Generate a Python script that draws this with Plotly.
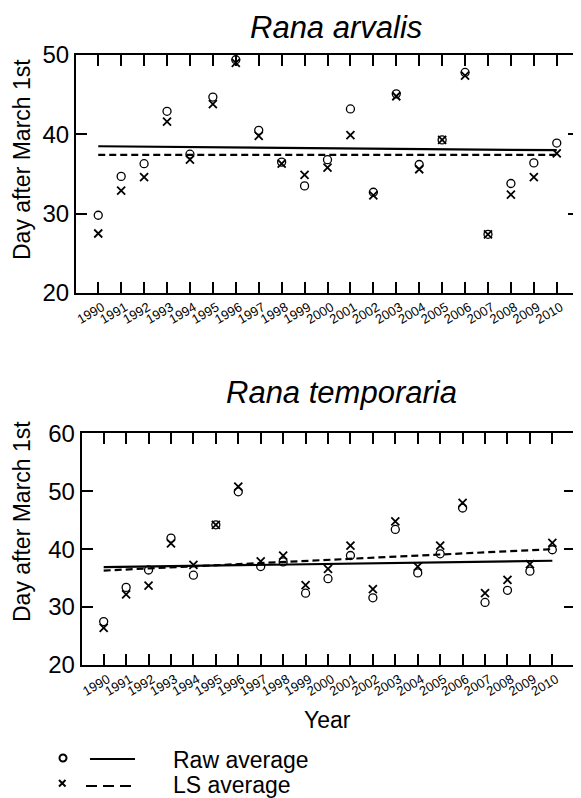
import plotly.graph_objects as go

# ---------------- data ----------------
years = list(range(1990, 2011))
year_labels = [str(y) for y in years]

arvalis_raw = [29.8, 34.7, 36.3, 42.9, 37.5, 44.7, 49.4, 40.5, 36.5, 33.5, 36.8,
               43.2, 32.7, 45.1, 36.2, 39.3, 47.8, 27.4, 33.8, 36.4, 38.9]
arvalis_ls = [27.5, 32.9, 34.6, 41.6, 36.8, 43.8, 49.0, 39.8, 36.3, 34.9, 35.8,
              39.9, 32.3, 44.8, 35.6, 39.3, 47.4, 27.4, 32.4, 34.6, 37.6]
temporaria_raw = [27.5, 33.4, 36.4, 41.9, 35.5, 44.2, 49.9, 37.0, 37.8, 32.4, 34.9,
                  38.9, 31.6, 43.4, 35.9, 39.2, 47.1, 30.8, 32.9, 36.2, 39.9]
temporaria_ls = [26.4, 32.2, 33.7, 41.0, 37.3, 44.2, 50.8, 37.9, 38.9, 33.8, 36.6,
                 40.6, 33.1, 44.8, 37.0, 40.6, 48.0, 32.4, 34.7, 37.4, 41.1]

trend_years = [1990, 2010]
arvalis_raw_trend = [38.5, 38.0]
arvalis_ls_trend = [37.4, 37.4]
temporaria_raw_trend = [36.9, 38.0]
temporaria_ls_trend = [36.3, 40.0]

top_yticks = [20, 30, 40, 50]
bottom_yticks = [20, 30, 40, 50, 60]

# ---------------- figure ----------------
W, H = 581, 798
OFF = 8  # the page body adds an 8px margin; positions below are in window pixels
FONT = "Liberation Sans, Arial, sans-serif"

def px(x):
    return (x - OFF) / W

def py(y):
    return 1 - (y - OFF) / H

fig = go.Figure()

circle_marker = dict(symbol="circle-open", size=8, color="black", line=dict(width=1.3, color="black"))
x_marker = dict(symbol="x-thin-open", size=8, color="black", line=dict(width=1.8, color="black"))

for xa, ya, raw, ls, rt, lt in [
    ("x", "y", arvalis_raw, arvalis_ls, arvalis_raw_trend, arvalis_ls_trend),
    ("x2", "y2", temporaria_raw, temporaria_ls, temporaria_raw_trend, temporaria_ls_trend),
]:
    fig.add_trace(go.Scatter(x=trend_years, y=rt, mode="lines", xaxis=xa, yaxis=ya,
                             line=dict(color="black", width=2.2), showlegend=False))
    fig.add_trace(go.Scatter(x=trend_years, y=lt, mode="lines", xaxis=xa, yaxis=ya,
                             line=dict(color="black", width=2.2, dash="7px,4px"), showlegend=False))
    fig.add_trace(go.Scatter(x=years, y=raw, mode="markers", xaxis=xa, yaxis=ya,
                             marker=circle_marker, showlegend=False, cliponaxis=False))
    fig.add_trace(go.Scatter(x=years, y=ls, mode="markers", xaxis=xa, yaxis=ya,
                             marker=x_marker, showlegend=False, cliponaxis=False))

common_x = dict(
    tickmode="array", tickvals=years, ticktext=year_labels, tickangle=-30,
    ticks="inside", ticklen=11, tickwidth=2, tickcolor="black",
    showline=True, linewidth=2, linecolor="black", mirror="ticks",
    showgrid=False, zeroline=False, automargin=False, ticklabelshift=4,
    tickfont=dict(family=FONT, size=13, color="black"),
)
common_y = dict(
    ticks="inside", ticklen=11, tickwidth=2, tickcolor="black",
    showline=True, linewidth=2, linecolor="black", mirror="ticks",
    showgrid=False, zeroline=False, automargin=False,
    tickfont=dict(family=FONT, size=24, color="black"),
)

fig.update_layout(
    width=W, height=H,
    margin=dict(l=0, r=0, t=0, b=0, autoexpand=False),
    paper_bgcolor="white", plot_bgcolor="white",
    showlegend=False,
    xaxis=dict(common_x, domain=[px(76), px(579)], range=[1989.03, 2010.97], anchor="y"),
    yaxis=dict(common_y, domain=[py(293), py(55)], range=[20, 50], tickvals=top_yticks, anchor="x"),
    xaxis2=dict(common_x, domain=[px(81.7), px(575)], range=[1989.02, 2011.01], anchor="y2"),
    yaxis2=dict(common_y, domain=[py(665), py(433.3)], range=[20, 60], tickvals=bottom_yticks, anchor="x2"),
)

# titles and axis labels
ann = []
ann.append(dict(text="<i>Rana arvalis</i>", x=px(336), y=py(27), xref="paper", yref="paper",
                showarrow=False, font=dict(family=FONT, size=31, color="black"),
                xanchor="center", yanchor="middle"))
ann.append(dict(text="<i>Rana temporaria</i>", x=px(341), y=py(393), xref="paper", yref="paper",
                showarrow=False, font=dict(family=FONT, size=31, color="black"),
                xanchor="center", yanchor="middle"))
ann.append(dict(text="Day after March 1st", x=px(22), y=py(160), xref="paper", yref="paper",
                showarrow=False, textangle=-90, font=dict(family=FONT, size=23, color="black"),
                xanchor="center", yanchor="middle"))
ann.append(dict(text="Day after March 1st", x=px(22), y=py(522), xref="paper", yref="paper",
                showarrow=False, textangle=-90, font=dict(family=FONT, size=23, color="black"),
                xanchor="center", yanchor="middle"))
ann.append(dict(text="Year", x=px(328), y=py(720), xref="paper", yref="paper",
                showarrow=False, font=dict(family=FONT, size=23, color="black"),
                xanchor="center", yanchor="middle"))
ann.append(dict(text="Raw average", x=px(171), y=py(760), xref="paper", yref="paper",
                showarrow=False, font=dict(family=FONT, size=23, color="black"),
                xanchor="left", yanchor="middle"))
ann.append(dict(text="LS average", x=px(171), y=py(785), xref="paper", yref="paper",
                showarrow=False, font=dict(family=FONT, size=23, color="black"),
                xanchor="left", yanchor="middle"))
fig.update_layout(annotations=ann)

# manual legend glyphs
shapes = []
shapes.append(dict(type="circle", xref="paper", yref="paper",
                   x0=px(59.5), x1=px(66.5), y0=py(761.5), y1=py(754.5),
                   line=dict(color="black", width=2)))
shapes.append(dict(type="line", xref="paper", yref="paper",
                   x0=px(90), x1=px(135), y0=py(759), y1=py(759),
                   line=dict(color="black", width=2)))
shapes.append(dict(type="line", xref="paper", yref="paper",
                   x0=px(59), x1=px(65.5), y0=py(780), y1=py(786.5),
                   line=dict(color="black", width=2)))
shapes.append(dict(type="line", xref="paper", yref="paper",
                   x0=px(59), x1=px(65.5), y0=py(786.5), y1=py(780),
                   line=dict(color="black", width=2)))
shapes.append(dict(type="line", xref="paper", yref="paper",
                   x0=px(86), x1=px(137), y0=py(786), y1=py(786),
                   line=dict(color="black", width=2, dash="11px,6px")))
fig.update_layout(shapes=shapes)

fig.write_html("out.html")
